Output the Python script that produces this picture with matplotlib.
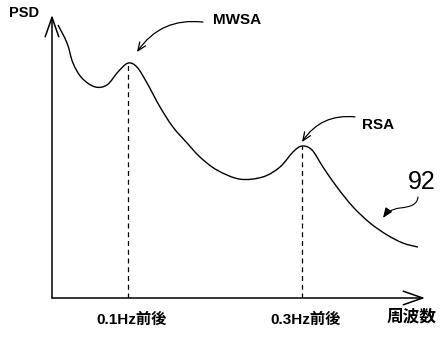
import matplotlib
matplotlib.use("Agg")
import matplotlib.pyplot as plt
from matplotlib.path import Path
from matplotlib.patches import FancyArrowPatch, PathPatch

# ---- data (frequency in Hz, PSD in arbitrary units) ----
freq = [0.0195, 0.0299, 0.0368, 0.0471, 0.0621, 0.0759, 0.0885, 0.1000,
        0.1103, 0.1218, 0.1368, 0.1517, 0.1678, 0.1828, 0.2023, 0.2287,
        0.2552, 0.2747, 0.2897, 0.3000, 0.3115, 0.3241, 0.3402, 0.3586,
        0.3782, 0.3977, 0.4161, 0.4333]
psd = [9.65, 9.01, 8.30, 7.77, 7.46, 7.53, 7.99, 8.30,
       8.16, 7.60, 6.75, 6.04, 5.48, 4.98, 4.52, 4.20,
       4.28, 4.63, 5.16, 5.37, 5.23, 4.63, 3.92, 3.22,
       2.65, 2.23, 1.94, 1.80]
peak_freqs = [0.1, 0.3]
peak_psd = [8.30, 5.37]
tick_labels = ["0.1Hz前後", "0.3Hz前後"]
x_label = "周波数"
y_label = "PSD"
peak_names = ["MWSA", "RSA"]
curve_label = "92"

FAM = ["Liberation Sans", "Noto Sans CJK JP", "DejaVu Sans"]
plt.rcParams["font.family"] = FAM

fig = plt.figure(figsize=(4.4, 3.38), dpi=100)
ax = fig.add_axes([52 / 440, 40 / 338, 373 / 440, 283 / 338])
ax.set_xlim(0.01264, 0.44138)
ax.set_ylim(0, 10)
for s in ax.spines.values():
    s.set_visible(False)
ax.set_xticks([])
ax.set_yticks([])

# axes arrows
for tip in [(1, 0), (0, 1)]:
    ax.annotate("", xy=tip, xytext=(0, 0), xycoords="axes fraction",
                arrowprops=dict(arrowstyle="->,head_length=1.0,head_width=0.35",
                                lw=1.1, color="black", mutation_scale=14,
                                shrinkA=0, shrinkB=0))

# smooth curve through the read points (Catmull-Rom drawn as cubic Beziers)
pts = list(zip(freq, psd))
verts = [pts[0]]
codes = [Path.MOVETO]
n = len(pts)
for i in range(n - 1):
    p0 = pts[i - 1] if i > 0 else pts[i]
    p1 = pts[i]
    p2 = pts[i + 1]
    p3 = pts[i + 2] if i + 2 < n else pts[i + 1]
    c1 = (p1[0] + (p2[0] - p0[0]) / 6, p1[1] + (p2[1] - p0[1]) / 6)
    c2 = (p2[0] - (p3[0] - p1[0]) / 6, p2[1] - (p3[1] - p1[1]) / 6)
    verts += [c1, c2, p2]
    codes += [Path.CURVE4] * 3
ax.add_patch(PathPatch(Path(verts, codes), fill=False, edgecolor="black",
                       lw=1.0, clip_on=False))

# dashed drop lines
ax.vlines(peak_freqs, 0, peak_psd, colors="black", lw=0.9,
          linestyles=[(0, (4, 3))])

# tick labels
for f, t in zip(peak_freqs, tick_labels):
    ax.text(f + 0.004, -0.78, t, ha="center", va="center", fontsize=11,
            fontweight="bold", clip_on=False)
ax.text(0.4264, -0.67, x_label, ha="center", va="center", fontsize=12,
        fontweight="bold", clip_on=False)
ax.text(-0.0195, 10.07, y_label, ha="center", va="center", fontsize=10.5,
        fontweight="bold", clip_on=False)

# peak annotations
arrow_kw = dict(arrowstyle="->,head_length=0.6,head_width=0.25",
                connectionstyle="arc3,rad=0.3", lw=0.9, color="black",
                shrinkA=0, shrinkB=0)
ax.annotate("", xy=(0.1103, 8.69), xytext=(0.1862, 9.75), arrowprops=arrow_kw)
ax.text(0.1977, 9.82, peak_names[0], ha="left", va="center", fontsize=11,
        fontweight="bold", clip_on=False)
ax.annotate("", xy=(0.3000, 5.51), xytext=(0.3609, 6.40), arrowprops=arrow_kw)
ax.text(0.369, 6.11, peak_names[1], ha="left", va="center", fontsize=11,
        fontweight="bold", clip_on=False)

# 92 reference label
ax.text(0.4218, 4.10, curve_label, ha="left", va="center", fontsize=18,
        clip_on=False)
lverts = [(0.4333, 3.57), (0.4325, 3.30), (0.4250, 3.22), (0.4126, 3.18),
          (0.4020, 3.14), (0.3970, 3.00), (0.3931, 2.83)]
lcodes = [Path.MOVETO] + [Path.CURVE4] * 6
leader = FancyArrowPatch(path=Path(lverts, lcodes),
                         arrowstyle="-|>,head_length=0.5,head_width=0.2",
                         mutation_scale=12, lw=0.8, color="black",
                         transform=ax.transData, clip_on=False)
ax.add_patch(leader)

fig.savefig("out.png", dpi=100)
